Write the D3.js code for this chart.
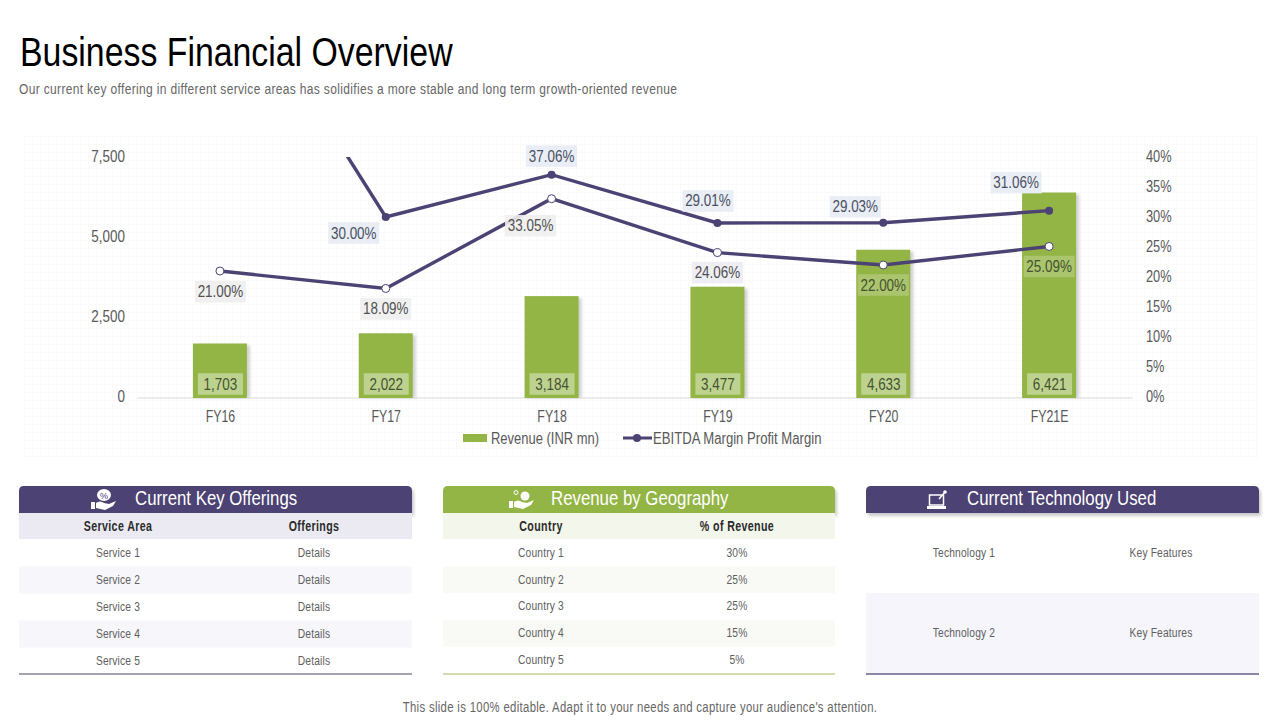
<!DOCTYPE html>
<html>
<head>
<meta charset="utf-8">
<script src="https://cdn.jsdelivr.net/npm/d3@7"></script>
<style>
  html, body { margin: 0; padding: 0; background: #fff; }
  svg { display: block; }
  text { font-family: "Liberation Sans", sans-serif; }
</style>
</head>
<body>
<svg id="slide" width="1280" height="720"></svg>
<script>
// Chart data
var years = ["FY16", "FY17", "FY18", "FY19", "FY20", "FY21E"];
var revenue = [1703, 2022, 3184, 3477, 4633, 6421];
var marginLow = [21.00, 18.09, 33.05, 24.06, 22.00, 25.09];
// first point of the upper line sits above the axis maximum, only its slope shows
var marginHigh = [73.7, 30.00, 37.06, 29.01, 29.03, 31.06];
var marginHighLabels = [null, "30.00%", "37.06%", "29.01%", "29.03%", "31.06%"];
var revenueTicks = [0, 2500, 5000, 7500];
var percentTicks = [0, 5, 10, 15, 20, 25, 30, 35, 40];

// Table data
var serviceRows = ["Service 1", "Service 2", "Service 3", "Service 4", "Service 5"];
var serviceDetails = ["Details", "Details", "Details", "Details", "Details"];
var countryRows = ["Country 1", "Country 2", "Country 3", "Country 4", "Country 5"];
var countryShares = ["30%", "25%", "25%", "15%", "5%"];
var techRows = ["Technology 1", "Technology 2"];
var techFeatures = ["Key Features", "Key Features"];

var PURPLE = "#4c4273";
var GREEN = "#93b545";

var svg = d3.select("#slide");
var defs = svg.append("defs");

var blur = defs.append("filter").attr("id", "soft").attr("x", "-20%").attr("y", "-20%")
  .attr("width", "140%").attr("height", "140%");
blur.append("feGaussianBlur").attr("stdDeviation", 1.5);

// No narrow font is installed, so squeeze each text to the deck's condensed look
function squeeze(sel, factor) {
  sel.each(function () {
    this.setAttribute("textLength", this.getComputedTextLength() * factor);
    this.setAttribute("lengthAdjust", "spacingAndGlyphs");
  });
}

svg.append("text").attr("x", 20).attr("y", 66)
  .attr("font-size", 40).attr("fill", "#000")
  .text("Business Financial Overview").call(squeeze, 0.846);

svg.append("text").attr("x", 19).attr("y", 94)
  .attr("font-size", 14).attr("fill", "#666").attr("letter-spacing", 0.4)
  .text("Our current key offering in different service areas has solidifies a more stable and long term growth-oriented revenue")
  .call(squeeze, 0.857);

svg.append("text").attr("x", 640).attr("y", 712)
  .attr("font-size", 14).attr("fill", "#666").attr("text-anchor", "middle").attr("letter-spacing", 0.4)
  .text("This slide is 100% editable. Adapt it to your needs and capture your audience's attention.")
  .call(squeeze, 0.81);

// Faint paper grid behind the chart
var gridG = svg.append("g").attr("stroke", "#fafafb").attr("stroke-width", 1);
d3.range(24, 1259, 8).forEach(function (x) {
  gridG.append("line").attr("x1", x + 0.5).attr("x2", x + 0.5).attr("y1", 136).attr("y2", 458);
});
d3.range(136, 459, 8).forEach(function (y) {
  gridG.append("line").attr("x1", 23).attr("x2", 1258).attr("y1", y + 0.5).attr("y2", y + 0.5);
});

// Scales
var x = d3.scaleBand().domain(years).range([137, 1132]).paddingInner(0).paddingOuter(0);
var yLeft = d3.scaleLinear().domain([0, 7500]).range([398, 158]);
var yRight = d3.scaleLinear().domain([0, 40]).range([397, 157]);
var barWidth = 54;
var cx = function (d) { return x(d) + x.bandwidth() / 2; };

defs.append("clipPath").attr("id", "plotClip").append("rect")
  .attr("x", 137).attr("y", 157).attr("width", 996).attr("height", 240);

// Axes
var axisLeft = d3.axisLeft(yLeft).tickValues(revenueTicks).tickSize(0).tickPadding(12).tickFormat(d3.format(","));
var gLeft = svg.append("g").attr("transform", "translate(137,-1.5)").call(axisLeft);
var axisRight = d3.axisRight(yRight).tickValues(percentTicks).tickSize(0).tickPadding(14).tickFormat(function (d) { return d + "%"; });
var gRight = svg.append("g").attr("transform", "translate(1132,-0.5)").call(axisRight);
var axisBottom = d3.axisBottom(x).tickSize(0).tickPadding(13);
var gBottom = svg.append("g").attr("transform", "translate(0,397.5)").call(axisBottom);
[gLeft, gRight, gBottom].forEach(function (g) {
  g.selectAll("text").attr("font-size", 16).attr("fill", "#595959").attr("font-family", '"Liberation Sans"');
});
gLeft.select(".domain").remove();
gRight.select(".domain").remove();
gLeft.selectAll("text").call(squeeze, 0.84);
gRight.selectAll("text").call(squeeze, 0.8);
gBottom.selectAll("text").attr("dx", 0.5).call(squeeze, 0.77);
gBottom.select(".domain").attr("stroke", "#d9d9d9").attr("stroke-width", 1);

// Bars with a soft side shadow
svg.append("g").selectAll("rect").data(revenue).join("rect")
  .attr("x", function (d, i) { return cx(years[i]) - barWidth / 2 + 3; })
  .attr("y", function (d) { return yLeft(d) + 2; })
  .attr("width", barWidth)
  .attr("height", function (d) { return yLeft(0) - yLeft(d) - 2; })
  .attr("fill", "#d0d0d0").attr("filter", "url(#soft)");

svg.append("g").selectAll("rect").data(revenue).join("rect")
  .attr("x", function (d, i) { return cx(years[i]) - barWidth / 2; })
  .attr("y", function (d) { return yLeft(d); })
  .attr("width", barWidth)
  .attr("height", function (d) { return yLeft(0) - yLeft(d); })
  .attr("fill", GREEN);

// Boxed label: a pale rectangle with centred text
function boxLabel(cxPos, cyPos, str, w, h, fill, opacity, color) {
  var g = svg.append("g");
  g.append("rect").attr("x", cxPos - w / 2).attr("y", cyPos - h / 2)
    .attr("width", w).attr("height", h).attr("fill", fill).attr("opacity", opacity);
  g.append("text").attr("x", cxPos).attr("y", cyPos + 5.5)
    .attr("text-anchor", "middle").attr("font-size", 16).attr("fill", color).text(str)
    .call(squeeze, 0.84);
}

revenue.forEach(function (d, i) {
  boxLabel(cx(years[i]) + 0.5, 384, d3.format(",")(d), 45, 21.5, "#fff", 0.4, "#45522f");
});

// Lines
var line = d3.line()
  .x(function (d, i) { return cx(years[i]); })
  .y(function (d) { return yRight(d); });

svg.append("path").datum(marginHigh).attr("d", line)
  .attr("fill", "none").attr("stroke", PURPLE).attr("stroke-width", 3.4)
  .attr("clip-path", "url(#plotClip)");
svg.append("path").datum(marginLow).attr("d", line)
  .attr("fill", "none").attr("stroke", PURPLE).attr("stroke-width", 3.4);

svg.append("g").selectAll("circle").data(marginHigh.slice(1)).join("circle")
  .attr("cx", function (d, i) { return cx(years[i + 1]); })
  .attr("cy", function (d) { return yRight(d); })
  .attr("r", 4).attr("fill", PURPLE);

svg.append("g").selectAll("circle").data(marginLow).join("circle")
  .attr("cx", function (d, i) { return cx(years[i]); })
  .attr("cy", function (d) { return yRight(d); })
  .attr("r", 4).attr("fill", "#fff").attr("stroke", PURPLE).attr("stroke-width", 1);

// Line labels, offsets read per point because the deck placed them by hand
var highOffsets = [null, [-32, 16], [0, -18.5], [-9.5, -22], [-28, -16], [-33, -28]];
var lowOffsets = [[0.5, 20.7], [0, 20.5], [-21, 27], [0, 20], [0, 20], [0, 20]];
var lowFills = ["#eeeeee", "#eeeeee", "#eeeeee", "#ececf3", "#ffffff", "#ffffff"];
var lowOpac = [0.9, 0.9, 0.9, 0.9, 0.22, 0.22];
var lowText = ["#505050", "#505050", "#505050", "#505050", "#45522f", "#45522f"];

marginHigh.forEach(function (d, i) {
  if (!marginHighLabels[i]) return;
  boxLabel(cx(years[i]) + highOffsets[i][0], yRight(d) + highOffsets[i][1], marginHighLabels[i], 51, 21.5, "#e9edf6", 1, "#4a5060");
});
marginLow.forEach(function (d, i) {
  boxLabel(cx(years[i]) + lowOffsets[i][0], yRight(d) + lowOffsets[i][1], d.toFixed(2) + "%", 51, 21.5, lowFills[i], lowOpac[i], lowText[i]);
});

// Legend
var legend = svg.append("g");
legend.append("rect").attr("x", 463).attr("y", 434).attr("width", 24).attr("height", 8).attr("fill", GREEN);
legend.append("text").attr("x", 491).attr("y", 444).attr("font-size", 16).attr("fill", "#595959")
  .text("Revenue (INR mn)").call(squeeze, 0.81);
legend.append("line").attr("x1", 623).attr("x2", 652).attr("y1", 438).attr("y2", 438).attr("stroke", PURPLE).attr("stroke-width", 3);
legend.append("circle").attr("cx", 637).attr("cy", 438).attr("r", 4).attr("fill", PURPLE);
legend.append("text").attr("x", 653).attr("y", 444).attr("font-size", 16).attr("fill", "#595959")
  .text("EBITDA Margin Profit Margin").call(squeeze, 0.82);

// Tables
function headerBar(left, width, color, title, titleX) {
  var g = svg.append("g");
  var top = 486, h = 27, r = 5;
  var shape = "M" + left + "," + (top + h) + "V" + (top + r) + "Q" + left + "," + top + " " + (left + r) + "," + top +
    "H" + (left + width - r) + "Q" + (left + width) + "," + top + " " + (left + width) + "," + (top + r) + "V" + (top + h) + "Z";
  g.append("path").attr("d", shape).attr("fill", "#999").attr("opacity", 0.5)
    .attr("transform", "translate(2,3)").attr("filter", "url(#soft)");
  g.append("path").attr("d", shape).attr("fill", color);
  g.append("text").attr("x", titleX).attr("y", top + 19).attr("font-size", 21)
    .attr("fill", "#fff").text(title).call(squeeze, 0.8);
}

function table(left, width, headers, colA, colB, opts) {
  var xA = left + opts.colA, xB = left + opts.colB;
  if (headers) {
    svg.append("rect").attr("x", left).attr("y", 513).attr("width", width).attr("height", 26).attr("fill", opts.head);
    [[xA, headers[0]], [xB, headers[1]]].forEach(function (h) {
      svg.append("text").attr("x", h[0]).attr("y", 530.5).attr("text-anchor", "middle")
        .attr("font-size", 14).attr("font-weight", "bold").attr("letter-spacing", 0.5).attr("fill", "#2a2a2a").text(h[1])
        .call(squeeze, 0.76);
    });
  }
  colA.forEach(function (a, i) {
    var top = opts.top + i * opts.rowH;
    if (i % 2 === 1) {
      svg.append("rect").attr("x", left).attr("y", top).attr("width", width).attr("height", opts.rowH).attr("fill", opts.stripe);
    }
    [[xA, a], [xB, colB[i]]].forEach(function (c) {
      svg.append("text").attr("x", c[0]).attr("y", top + opts.rowH / 2 + 3.8).attr("text-anchor", "middle")
        .attr("font-size", 12.5).attr("letter-spacing", 0.2).attr("fill", "#606060").text(c[1])
        .call(squeeze, 0.82);
    });
  });
  svg.append("rect").attr("x", left).attr("y", 673).attr("width", width).attr("height", 2).attr("fill", opts.rule);
}

headerBar(19, 393, PURPLE, "Current Key Offerings", 135);
table(19, 393, ["Service Area", "Offerings"], serviceRows, serviceDetails,
  { colA: 99, colB: 295, top: 539.5, rowH: 27, head: "#ebeaf3", stripe: "#f6f6fb", rule: "#a5a3b3" });

headerBar(443, 392, GREEN, "Revenue by Geography", 551);
table(443, 392, ["Country", "% of Revenue"], countryRows, countryShares,
  { colA: 98, colB: 294, top: 539.5, rowH: 26.8, head: "#f3f6ea", stripe: "#f9faf5", rule: "#d3dcb0" });

headerBar(866, 393, PURPLE, "Current Technology Used", 967);
table(866, 393, null, techRows, techFeatures,
  { colA: 98, colB: 295, top: 513, rowH: 80, head: "#fff", stripe: "#f5f5fb", rule: "#8a86a3" });

// Header icons
function handIcon(ox, oy) {
  var g = svg.append("g").attr("transform", "translate(" + ox + "," + oy + ")").attr("fill", "#fff");
  g.append("rect").attr("x", 0).attr("y", 10).attr("width", 4).attr("height", 7);
  g.append("path").attr("d", "M5,11 Q9,8 13,11 L18,12 L25,9 L22,14 L14,18 L5,16 Z");
}
handIcon(91, 492);
svg.append("ellipse").attr("cx", 104).attr("cy", 495).attr("rx", 7).attr("ry", 6).attr("fill", "#fff");
svg.append("text").attr("x", 104).attr("y", 499).attr("text-anchor", "middle").attr("font-size", 9).attr("fill", PURPLE).text("%");
handIcon(509, 491);
svg.append("circle").attr("cx", 525).attr("cy", 496).attr("r", 4.5).attr("fill", "#fff");
svg.append("circle").attr("cx", 516).attr("cy", 492.5).attr("r", 2).attr("fill", "none").attr("stroke", "#fff");

var laptop = svg.append("g").attr("fill", "none").attr("stroke", "#fff").attr("stroke-width", 1.5);
laptop.append("rect").attr("x", 929.5).attr("y", 495).attr("width", 14).attr("height", 10);
svg.append("rect").attr("x", 927).attr("y", 506).attr("width", 19).attr("height", 3).attr("fill", "#fff");
svg.append("circle").attr("cx", 945).attr("cy", 492).attr("r", 1.8).attr("fill", "#fff");
laptop.append("line").attr("x1", 939).attr("y1", 499).attr("x2", 945).attr("y2", 492);
</script>
</body>
</html>
